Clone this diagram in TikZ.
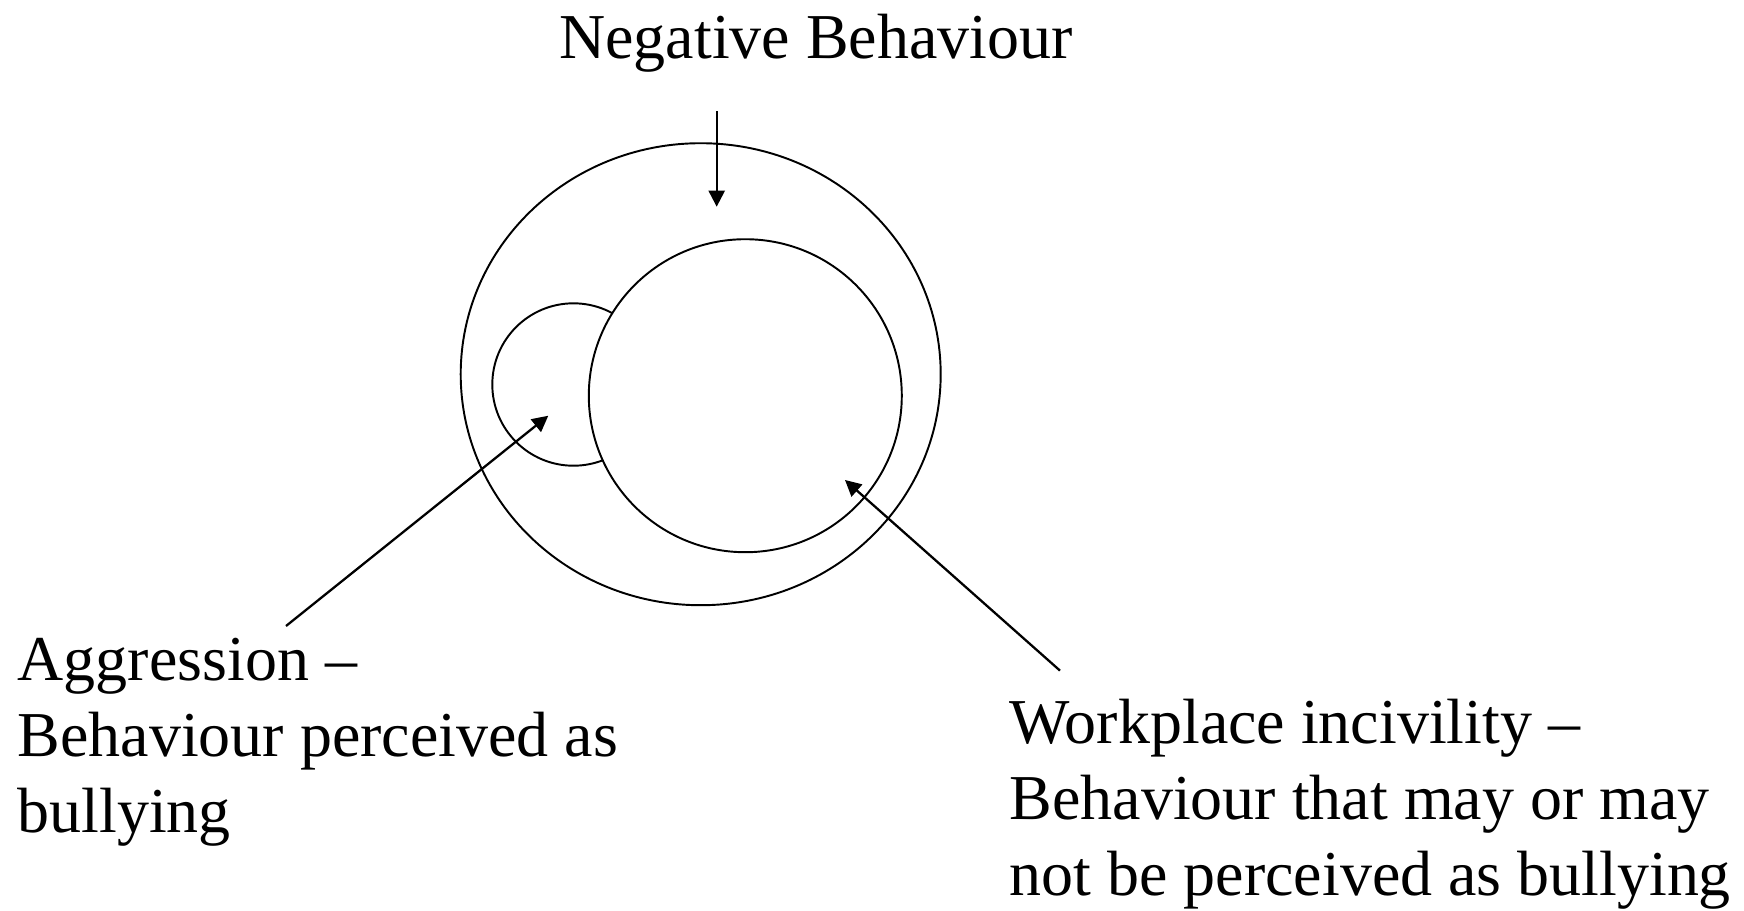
\documentclass[tikz,border=0pt]{standalone}
\usepackage{fontspec}
\setmainfont{Liberation Serif}
\usetikzlibrary{arrows.meta,shapes.geometric}
\begin{document}
\begin{tikzpicture}[x=0.1mm,y=-0.1mm,
  ring/.style={draw=black,line width=0.55pt,inner sep=0pt},
  lbl/.style={inner sep=0pt,align=left,font=\fontsize{18.2pt}{21.5pt}\selectfont},
  pointer/.style={draw=black,line width=0.65pt,-{Triangle[length=1.6mm,width=1.6mm]}}]
\useasboundingbox[fill=white] (0,0) rectangle (1744,910);
% circles
\node[ring,ellipse,minimum width=48mm,minimum height=46.2mm] (outer) at (700.7,374.2) {};
\node[ring,circle,minimum size=16.24mm] (aggr) at (573.5,384.5) {};
\node[ring,circle,fill=white,minimum size=31.3mm] (incv) at (745.3,395.7) {};
% labels (base anchor = baseline of the last line)
\node[lbl,anchor=base] (neg) at (816,58) {Negative Behaviour};
\node[lbl,anchor=base west] (agg) at (17,832) {Aggression --\\Behaviour perceived as\\bullying};
\node[lbl,anchor=base west] (work) at (1009,895) {Workplace incivility --\\Behaviour that may or may\\not be perceived as bullying};
% arrow ends
\coordinate (negS) at (716.7,111);
\coordinate (negT) at (716.7,206.7);
\coordinate (aggS) at (286,626);
\coordinate (aggT) at (548.3,415.7);
\coordinate (workS) at (1060,670.6);
\coordinate (workT) at (845,480);
\draw[pointer] (negS) -- (negT);
\draw[pointer] (aggS) -- (aggT);
\draw[pointer] (workS) -- (workT);
\end{tikzpicture}
\end{document}
